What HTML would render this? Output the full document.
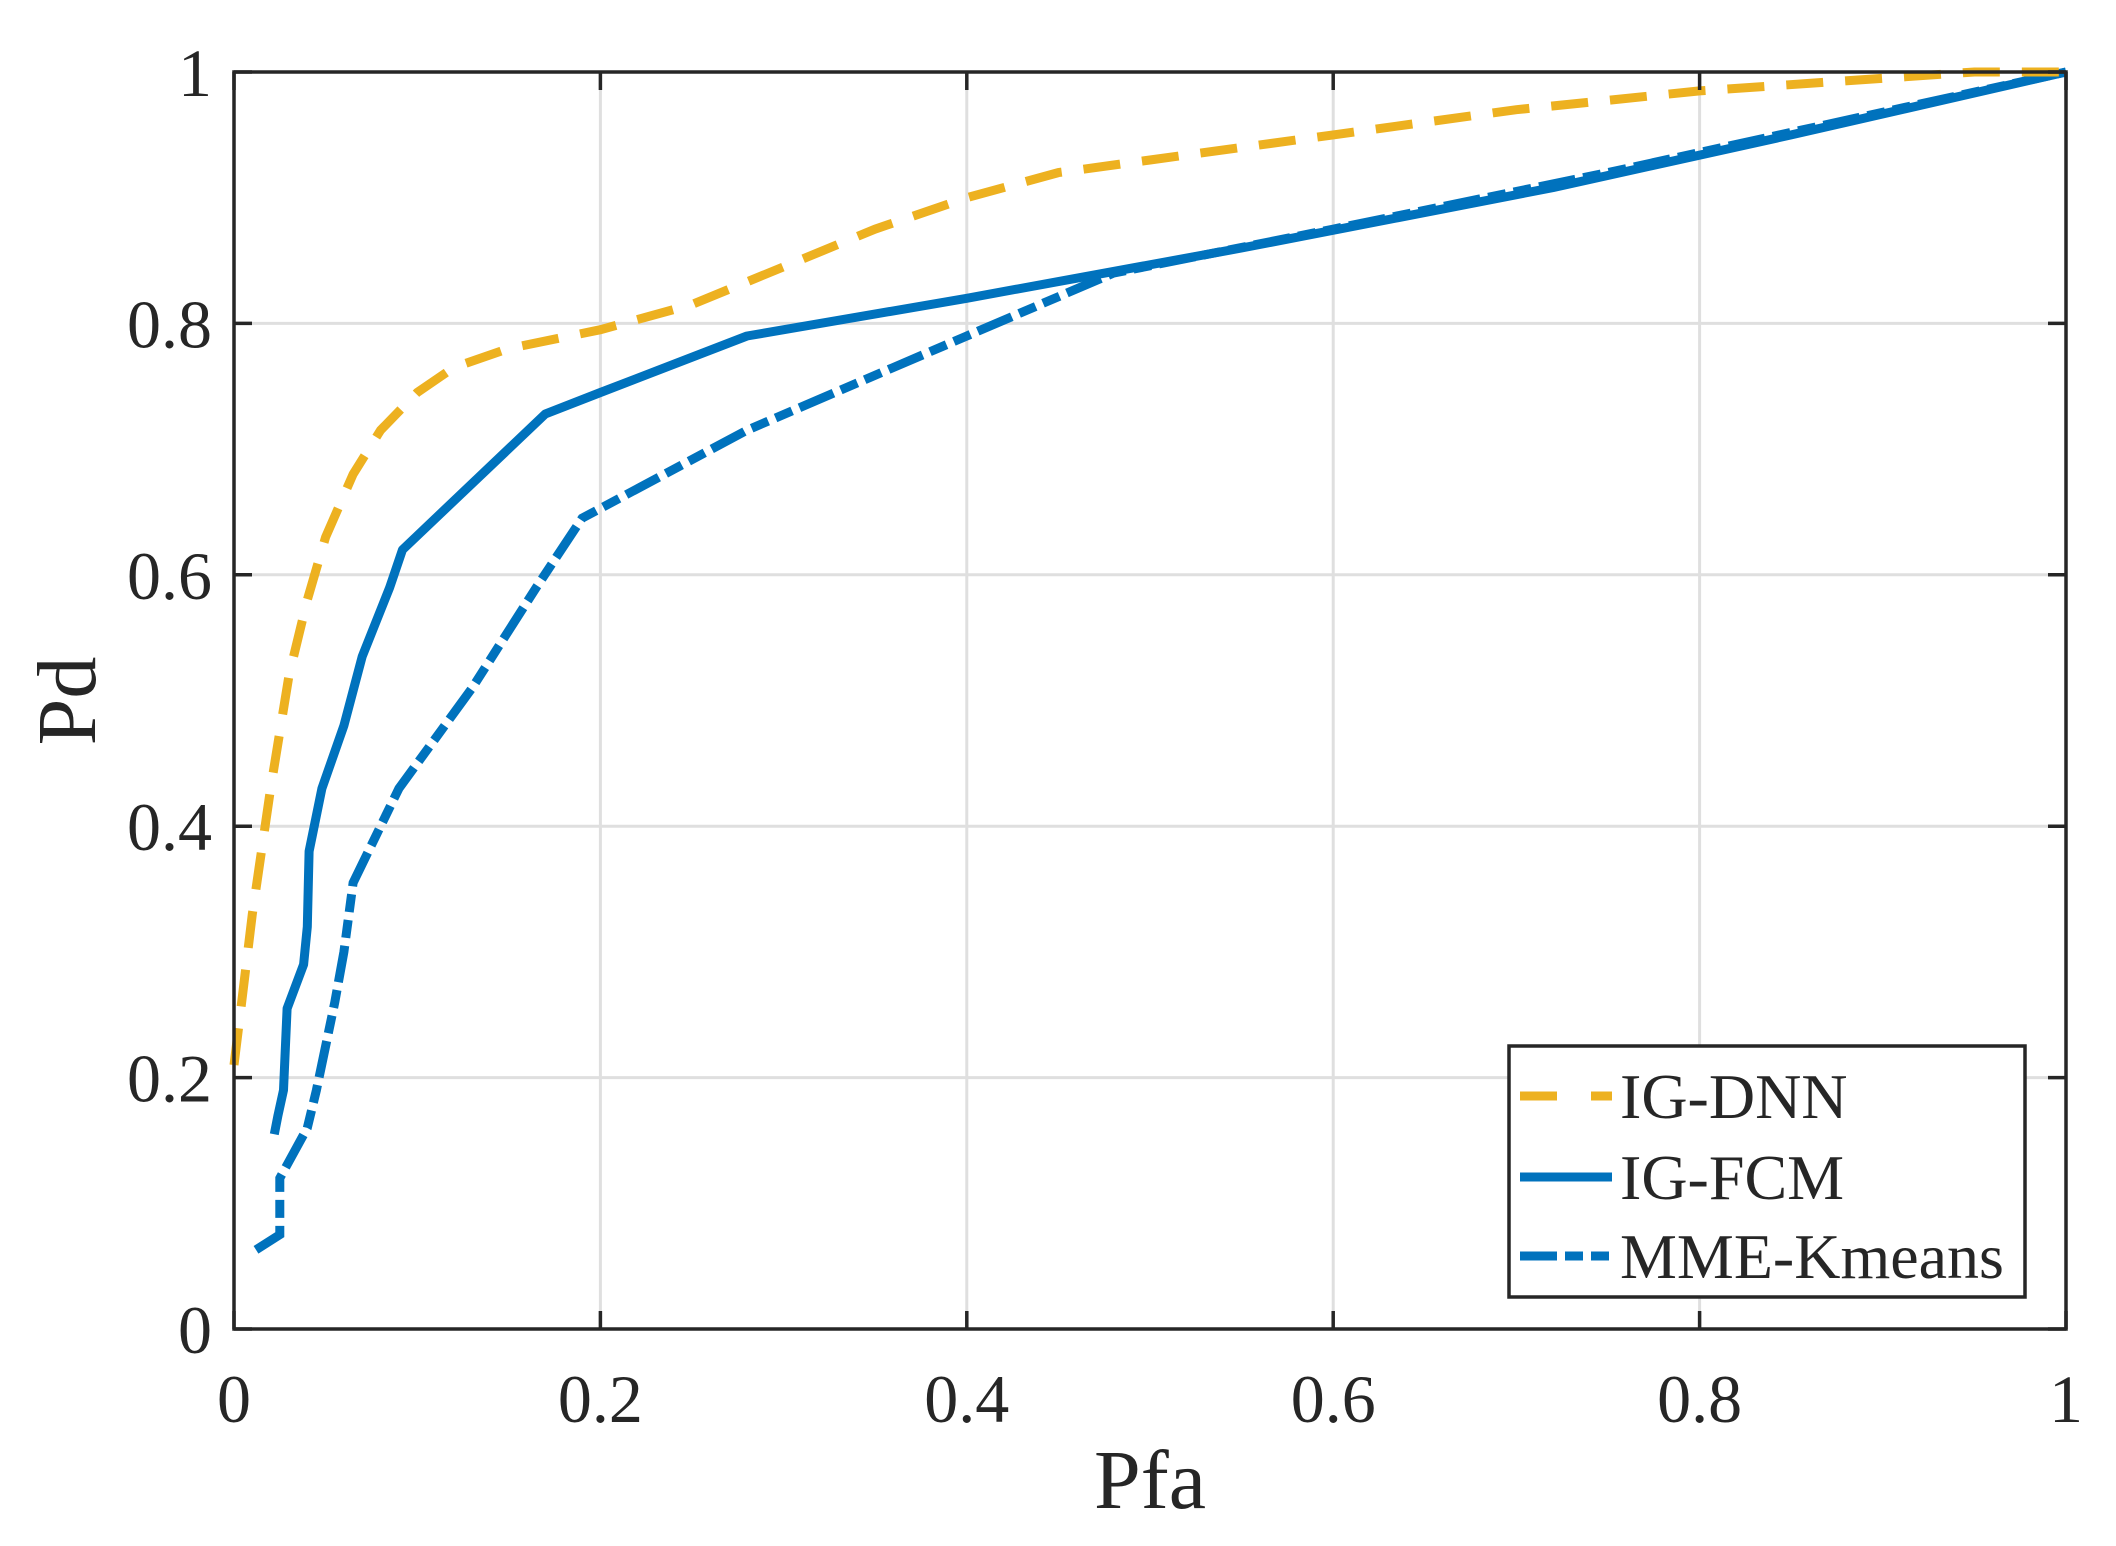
<!DOCTYPE html>
<html><head><meta charset="utf-8"><style>
html,body{margin:0;padding:0;background:#fff}
svg{display:block}
text{font-family:"Liberation Serif",serif;fill:#262626}
</style></head><body>
<svg id="chart" width="2116" height="1546" viewBox="0 0 2116 1546">
<g id="grid"></g>
<g id="series"></g>
<rect x="234" y="72" width="1832" height="1257" fill="none" stroke="#262626" stroke-width="3.5"/>
<g id="ticks"></g>
<text x="1150" y="1508" font-size="84" text-anchor="middle">Pfa</text>
<text x="0" y="0" font-size="84" text-anchor="middle" transform="translate(95,701) rotate(-90)">Pd</text>
<g>
<rect x="1509" y="1046" width="516" height="251" fill="#fff" stroke="#262626" stroke-width="3.5"/>
<line x1="1520" y1="1096" x2="1612" y2="1096" stroke="#EDB120" stroke-width="9" stroke-dasharray="37 34"/>
<text x="1620" y="1118" font-size="64">IG-DNN</text>
<line x1="1520" y1="1177" x2="1612" y2="1177" stroke="#0072BD" stroke-width="9"/>
<text x="1620" y="1199" font-size="64">IG-FCM</text>
<line x1="1520" y1="1256" x2="1612" y2="1256" stroke="#0072BD" stroke-width="9" stroke-dasharray="37 8 18 8 18 8"/>
<text x="1620" y="1278" font-size="64">MME-Kmeans</text>
</g>
</svg>
<script>
const xTicks=[0,0.2,0.4,0.6,0.8,1];
const yTicks=[0,0.2,0.4,0.6,0.8,1];
const xTickLabels=["0","0.2","0.4","0.6","0.8","1"];
const yTickLabels=["0","0.2","0.4","0.6","0.8","1"];
const dnnX=[0,0.005,0.01,0.02,0.03,0.04,0.05,0.065,0.08,0.1,0.12,0.15,0.2,0.25,0.3,0.35,0.4,0.45,0.5,0.6,0.7,0.8,0.9,0.95,1];
const dnnY=[0.21,0.27,0.33,0.43,0.52,0.58,0.63,0.68,0.715,0.745,0.765,0.78,0.795,0.815,0.845,0.875,0.9,0.92,0.93,0.95,0.97,0.985,0.995,1.0,1.0];
const fcmX=[0.022,0.024,0.027,0.029,0.038,0.04,0.041,0.048,0.06,0.07,0.085,0.092,0.17,0.2,0.28,0.4,0.55,0.72,0.85,1];
const fcmY=[0.155,0.17,0.19,0.255,0.29,0.32,0.38,0.43,0.48,0.535,0.59,0.62,0.728,0.745,0.79,0.82,0.86,0.908,0.95,1];
const mmeX=[0.012,0.025,0.025,0.04,0.045,0.055,0.06,0.065,0.09,0.13,0.165,0.19,0.28,0.4,0.48,0.6,0.75,1];
const mmeY=[0.063,0.075,0.12,0.16,0.19,0.26,0.3,0.355,0.43,0.51,0.59,0.645,0.715,0.79,0.84,0.875,0.92,1];
const L=234,R=2066,T=72,B=1329;
const sx=v=>L+v*(R-L), sy=v=>B-v*(B-T);
const NS="http://www.w3.org/2000/svg";
function mk(tag,attrs,parent){const e=document.createElementNS(NS,tag);for(const k in attrs)e.setAttribute(k,attrs[k]);parent.appendChild(e);return e;}
const grid=document.getElementById('grid'),ticks=document.getElementById('ticks'),series=document.getElementById('series');
xTicks.forEach((v,i)=>{
 const g=mk('line',{x1:sx(v),x2:sx(v),y1:T,y2:B,stroke:'#dfdfdf','stroke-width':3},grid);
 
 
 const t1=mk('line',{x1:sx(v),x2:sx(v),y1:B,y2:B-18,stroke:'#262626','stroke-width':3.5},ticks);
 
 
 const t2=mk('line',{x1:sx(v),x2:sx(v),y1:T,y2:T+18,stroke:'#262626','stroke-width':3.5},ticks);
 
 
 const tx=mk('text',{x:sx(v),y:1422,'font-size':68,'text-anchor':'middle'},ticks);
 tx.textContent=xTickLabels[i];
 
 
});
yTicks.forEach((v,i)=>{
 const g=mk('line',{x1:L,x2:R,y1:sy(v),y2:sy(v),stroke:'#dfdfdf','stroke-width':3},grid);
 
 
 const t1=mk('line',{x1:L,x2:L+18,y1:sy(v),y2:sy(v),stroke:'#262626','stroke-width':3.5},ticks);
 
 
 const t2=mk('line',{x1:R,x2:R-18,y1:sy(v),y2:sy(v),stroke:'#262626','stroke-width':3.5},ticks);
 
 
 const tx=mk('text',{x:212,y:sy(v)+24,'font-size':68,'text-anchor':'end'},ticks);
 tx.textContent=yTickLabels[i];
 
 
});
function pts(xs,ys){return xs.map((x,i)=>sx(x).toFixed(1)+','+sy(ys[i]).toFixed(1)).join(' ');}
const p3=mk('polyline',{points:pts(mmeX,mmeY),fill:'none',stroke:'#0072BD','stroke-width':9,'stroke-dasharray':'37 8 18 8 18 8'},series);


const p2=mk('polyline',{points:pts(fcmX,fcmY),fill:'none',stroke:'#0072BD','stroke-width':9,'stroke-linejoin':'round'},series);


const p1=mk('polyline',{points:pts(dnnX,dnnY),fill:'none',stroke:'#EDB120','stroke-width':9,'stroke-dasharray':'37 22'},series);


</script>
</body></html>
